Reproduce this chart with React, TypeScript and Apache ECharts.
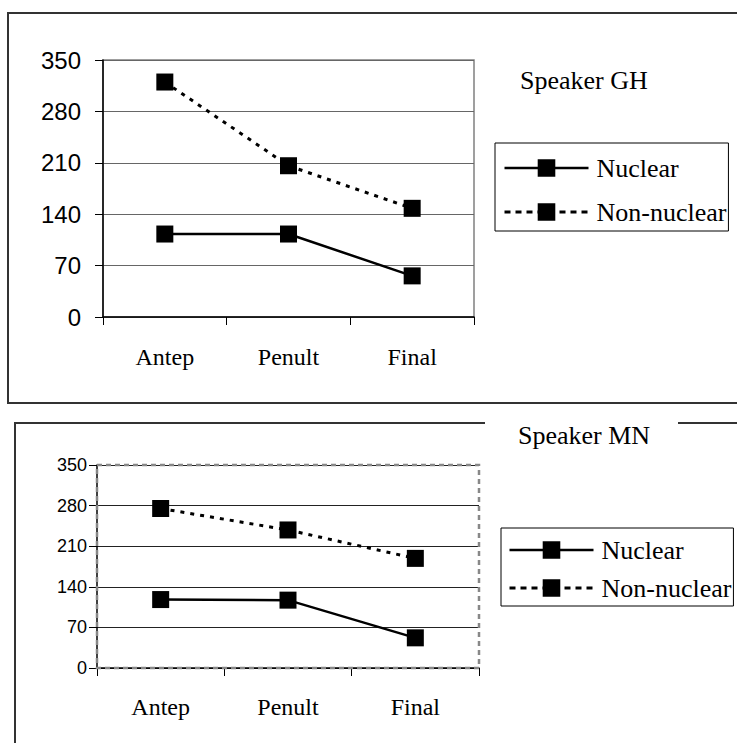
import React, { useEffect, useRef } from "react";
import * as echarts from "echarts";

// Syllable positions and pitch values for the two speakers
const categories = ["Antep", "Penult", "Final"];
const ghNuclear = [113, 113, 56];
const ghNonNuclear = [320, 206, 148];
const mnNuclear = [118, 117, 52];
const mnNonNuclear = [275, 238, 189];
const seriesNames = ["Nuclear", "Non-nuclear"];
const speakerTitles = ["Speaker GH", "Speaker MN"];

const SERIF = "'Liberation Serif', 'Times New Roman', serif";
const SANS = "'Liberation Sans', Arial, sans-serif";

// Plot areas
const G1 = { left: 103, top: 60, width: 371, height: 257 };
const G2 = { left: 97, top: 465, width: 382, height: 203 };

const solidLine = { color: "#000", width: 2.5, type: "solid" as const };
const dashLine = { color: "#000", width: 3, type: [4, 6] };

function lineSeries(name: string, data: number[], idx: number, dashed: boolean) {
  return {
    name,
    type: "line",
    xAxisIndex: idx,
    yAxisIndex: idx,
    data,
    symbol: "rect",
    symbolSize: 17,
    itemStyle: { color: "#000" },
    lineStyle: dashed ? dashLine : solidLine,
    z: 5,
  };
}

function yAxis(idx: number, fontSize: number, margin: number, gridColor: string) {
  return {
    type: "value",
    gridIndex: idx,
    min: 0,
    max: 350,
    interval: 70,
    axisLine: { show: true, lineStyle: { color: "#000", width: 1.5 } },
    axisTick: { show: true, inside: false, length: 8, lineStyle: { color: "#000", width: 1 } },
    axisLabel: { fontFamily: SANS, fontSize, color: "#000", margin },
    splitLine: { show: true, lineStyle: { color: gridColor, width: 1 } },
  };
}

function xAxis(idx: number, fontSize: number, margin: number) {
  return {
    type: "category",
    gridIndex: idx,
    data: categories,
    boundaryGap: true,
    axisLine: { show: true, lineStyle: { color: "#000", width: 1.5 } },
    axisTick: { show: true, length: 8, alignWithLabel: false, lineStyle: { color: "#000", width: 1 } },
    axisLabel: { fontFamily: SERIF, fontSize, color: "#000", margin },
  };
}

function legend(left: number, top: number, padding: number[], itemGap: number) {
  return {
    orient: "vertical",
    left,
    top,
    padding,
    itemGap,
    itemWidth: 84,
    itemHeight: 22,
    selectedMode: false,
    borderColor: "#000",
    borderWidth: 1,
    backgroundColor: "#fff",
    data: [
      { name: seriesNames[0], lineStyle: { color: "#000", width: 2.5, type: "solid" } },
      { name: seriesNames[1], lineStyle: { color: "#000", width: 3, type: [6, 5] } },
    ],
    textStyle: {
      fontFamily: SERIF,
      fontSize: 26,
      color: "#000",
      lineHeight: 26,
      padding: [0, 0, 0, 3],
    },
  };
}

export default function App() {
  const ref = useRef<HTMLDivElement>(null);

  useEffect(() => {
    if (!ref.current) return;
    const chart = echarts.init(ref.current, null, { renderer: "svg" });
    chart.setOption({
      animation: false,
      backgroundColor: "#fff",
      title: [
        {
          text: speakerTitles[0],
          left: 515,
          top: 62,
          textStyle: { fontFamily: SERIF, fontSize: 26, fontWeight: "normal", color: "#000" },
        },
        {
          text: speakerTitles[1],
          left: 518,
          top: 422,
          padding: 0,
          textStyle: { fontFamily: SERIF, fontSize: 26, fontWeight: "normal", color: "#000" },
        },
      ],
      grid: [
        { ...G1, show: true, borderColor: "#808080", borderWidth: 1.5, backgroundColor: "#fff" },
        { ...G2, show: false },
      ],
      xAxis: [xAxis(0, 24, 28), xAxis(1, 24, 27)],
      yAxis: [yAxis(0, 24, 22, "#666"), yAxis(1, 18, 10, "#222")],
      legend: [legend(495, 143, [12, 2, 6, 8], 18), legend(501, 528, [9, 2, 5, 7], 12)],
      series: [
        lineSeries(seriesNames[0], ghNuclear, 0, false),
        lineSeries(seriesNames[1], ghNonNuclear, 0, true),
        lineSeries(seriesNames[0], mnNuclear, 1, false),
        lineSeries(seriesNames[1], mnNonNuclear, 1, true),
      ],
      graphic: [
        // frame around the first chart
        {
          type: "rect",
          silent: true,
          shape: { x: 8, y: 13, width: 760, height: 390 },
          style: { fill: "none", stroke: "#333", lineWidth: 2 },
        },
        // frame around the second chart, broken by its title
        {
          type: "line",
          silent: true,
          shape: { x1: 15, y1: 423, x2: 485, y2: 423 },
          style: { stroke: "#333", lineWidth: 2 },
        },
        {
          type: "line",
          silent: true,
          shape: { x1: 678, y1: 423, x2: 740, y2: 423 },
          style: { stroke: "#333", lineWidth: 2 },
        },
        {
          type: "line",
          silent: true,
          shape: { x1: 15, y1: 422, x2: 15, y2: 745 },
          style: { stroke: "#333", lineWidth: 2 },
        },
        // dashed plot-area border of the second chart
        {
          type: "rect",
          silent: true,
          z: 1,
          shape: { x: G2.left, y: G2.top, width: G2.width, height: G2.height },
          style: { fill: "none", stroke: "#888", lineWidth: 2.5, lineDash: [5, 4] },
        },
      ],
    });
    return () => chart.dispose();
  }, []);

  return (
    <div
      ref={ref}
      style={{ position: "absolute", left: 0, top: 0, width: 737, height: 743, background: "#fff" }}
    />
  );
}
